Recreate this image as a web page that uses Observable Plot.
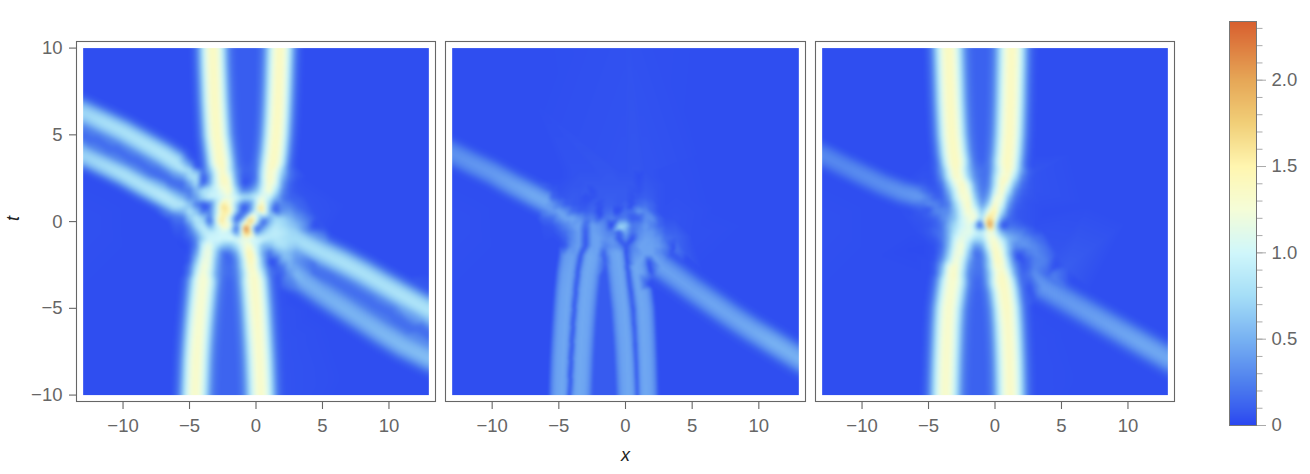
<!DOCTYPE html>
<html><head><meta charset="utf-8">
<script src="https://cdn.jsdelivr.net/npm/d3@7"></script>
<script src="https://cdn.jsdelivr.net/npm/@observablehq/plot@0.6"></script>
<style>
html,body{margin:0;padding:0;background:#fff}
#c{position:relative;width:1310px;height:474px;overflow:hidden;font-family:"Liberation Sans",sans-serif}
#c svg{position:absolute;top:0;background:transparent}
.lab{position:absolute;font:italic 18px "Liberation Sans",sans-serif;color:#222}
</style></head><body><div id="c"></div>
<script>
// colour scale
const colorStops=[0,0.1,0.25,0.5,0.75,1,1.25,1.5,1.75,2,2.34];
const colorHex=["#2a46f0","#3a60ef","#4f80ee","#78b2f2","#a5def7","#d0f7fb","#f5fdd8","#fff6b0","#f1cf78","#e6a757","#d85f2f"];
const xTicks=[-10,-5,0,5,10], tTicks=[-10,-5,0,5,10];
const barTicks=[0,0.5,1,1.5,2];
const barMinor=[0,.1,.2,.3,.4,.5,.6,.7,.8,.9,1,1.1,1.2,1.3,1.4,1.5,1.6,1.7,1.8,1.9,2,2.1,2.2,2.3];
// cross-section of a ridge: [fraction of half-width, fraction of peak]
const profile=[[0,1],[.25,.9],[.45,.72],[.62,.5],[.8,.24],[1,.07],[1.3,0]];
const flatProfile=[[0,1],[.45,.92],[.75,.6],[1,0]];
// background samples [x,t,v]
const background=[[-17,-13,.03],[-17,13,.03],[17,-13,.03],[17,13,.03],[-17,0,.03],[17,0,.03],[0,13,.04],[0,-13,.04],[-13,-5,.03],[-13,0,.04],[-8,-12,.03],[-8,-6,.03],[-8,12,.03],[-7,7,.03],[-9,-2,.03],[-7,-8,.03],
[13,-3,.03],[13,2,.03],[7,12,.03],[6,4,.03],[5,-12,.03],[7,-9,.03],[10,0,.03],[7,1,.03]];
// centre table: x columns shared by all panels, t rows per panel
const gridX=[-5.5,-5,-4.5,-4,-3.5,-3,-2.5,-2,-1.5,-1,-.5,0,.5,1,1.5,2,2.5,3];
const gridT=[3,2.6,2.2,1.8,1.4,1,.6,.2,-.2,-.6,-1,-1.4,-1.8,-2.2,-2.6,-3];
const gridT2=gridT.slice(0,12);
const grid1=[
[.85,.8,.45,.15,.6,1.15,1.42,.95,.35,.12,.12,.2,.9,1.38,1.25,.7,.2,.08],
[.45,.8,.85,.05,.4,1.05,1.45,1.15,.4,.08,.1,.2,.95,1.4,1.15,.55,.2,.08],
[.15,.45,.8,.05,.45,1,1.4,1.3,.5,.05,.08,.3,.95,1.35,1.1,.4,.12,.05],
[.2,.2,.55,.8,.85,.95,1.2,1.4,.75,.25,.3,.55,1.05,1.35,.85,.3,.1,.06],
[.5,.25,.4,.75,1,.95,1.05,1.15,1,.8,.8,.95,1.2,1,.55,.2,.12,.1],
[.85,.6,.2,.05,.15,.8,1.6,1.3,.7,.2,.25,.9,1.45,.7,.15,.3,.25,.15],
[.55,.85,.6,.15,.25,.85,1.55,1.5,.7,.1,.3,1,1.55,.6,.08,.35,.4,.25],
[.2,.65,.9,.7,.2,1,1.6,1,.12,.35,1.5,1.2,.45,.45,.75,.7,.55,.4],
[.1,.35,.8,.9,.35,.9,1.45,1.3,.35,1.2,1.5,.75,.2,.6,.85,.75,.65,.55],
[.06,.2,.5,.85,.9,.95,1.05,.95,.2,1.3,1.7,.2,.6,.85,.9,.85,.75,.7],
[.04,.1,.3,.7,1,1,1,1.05,1.05,1.15,1.05,1,.95,.85,.85,.8,.75,.75],
[.02,.05,.25,1,1.2,.85,.6,.55,.75,1.1,1.35,.95,.55,.55,.75,.8,.7,.65],
[.03,.05,.4,1.1,1.25,.65,.2,.2,.45,1,1.55,1.05,.45,.15,.45,.6,.55,.4],
[.03,.08,.6,1.2,1.2,.55,.2,.12,.3,.85,1.5,1.2,.55,.08,.08,.5,.55,.35],
[.03,.2,.8,1.3,1.15,.5,.2,.15,.28,.8,1.4,1.2,.65,.15,.08,.2,.5,.45],
[.03,.25,.95,1.32,1.05,.45,.2,.15,.25,.7,1.28,1.33,.85,.25,.1,.12,.35,.55]];
const grid2=[
[.03,.03,.04,.05,.05,.05,.05,.06,.06,.06,.05,.05,.06,.06,.05,.05,.04,.04],
[.03,.03,.04,.05,.06,.06,.06,.06,.07,.07,.06,.06,.06,.03,.06,.05,.04,.04],
[.04,.04,.05,.06,.06,.07,.07,.07,.07,.07,.07,.07,.07,.04,.07,.06,.05,.04],
[.08,.05,.06,.07,.07,.08,.04,.08,.08,.08,.08,.08,.06,.05,.08,.07,.05,.04],
[.13,.08,.07,.08,.07,.04,.05,.08,.09,.09,.08,.08,.05,.08,.1,.08,.05,.04],
[.36,.22,.1,.08,.07,.06,.1,.05,.1,.1,.08,.12,.04,.14,.18,.12,.05,.04],
[.38,.44,.34,.16,.1,.1,.14,.03,.14,.16,.03,.18,.18,.38,.3,.14,.05,.04],
[.18,.34,.44,.46,.36,.22,.26,.08,.22,.26,.18,.22,.08,.1,.32,.34,.12,.05],
[.08,.18,.28,.38,.44,.14,.42,.36,.26,.03,.6,.62,.22,.26,.38,.26,.14,.08],
[.05,.1,.18,.3,.42,.07,.42,.38,.3,.26,.1,.46,.18,.3,.38,.36,.24,.12],
[.03,.05,.12,.3,.42,.05,.42,.42,.34,.36,.06,.3,.03,.34,.42,.4,.34,.18],
[.03,.03,.08,.34,.42,.05,.42,.42,.26,.34,.3,.05,.26,.42,.42,.42,.38,.26]];
const grid3=[
[.04,.04,.1,.45,1.05,1.42,1.15,.6,.25,.17,.2,.7,1.2,1.42,1.05,.45,.12,.06],
[.05,.04,.08,.35,.95,1.4,1.25,.7,.3,.17,.22,.8,1.3,1.35,.85,.3,.1,.05],
[.08,.05,.06,.2,.7,1.2,1.42,1.05,.4,.18,.25,.85,1.42,1.15,.55,.18,.08,.05],
[.2,.1,.06,.12,.5,1,1.4,1.2,.5,.2,.32,1,1.42,.9,.32,.12,.07,.05],
[.38,.25,.1,.1,.35,.9,1.3,1.35,.65,.25,.45,1.25,1.3,.6,.2,.08,.06,.05],
[.22,.33,.3,.15,.22,.7,1.15,1.42,.85,.35,.7,1.42,1.1,.4,.12,.07,.05,.04],
[.08,.12,.3,.32,.3,.6,1.05,1.35,1.15,.6,1.15,1.55,.8,.25,.08,.06,.05,.04],
[.06,.08,.12,.3,.42,.6,1,1.2,1.3,.75,1.7,1.3,.45,.15,.08,.06,.05,.04],
[.05,.06,.1,.2,.5,.75,1,1.15,.8,.1,2,.9,.05,.15,.15,.1,.06,.04],
[.05,.08,.15,.2,.5,.85,1.1,1.15,1,.9,1.2,1.05,.5,.35,.3,.25,.15,.08],
[.03,.05,.08,.2,.5,1,1.2,1.05,.75,.75,1.2,1.3,.9,.55,.45,.35,.3,.2],
[.02,.03,.05,.15,.55,1.1,1.3,.85,.35,.45,1.05,1.4,1.1,.6,.3,.35,.35,.3],
[.02,.03,.04,.2,.65,1.2,1.25,.65,.15,.25,.8,1.45,1.25,.6,.12,.1,.25,.3],
[.03,.03,.06,.3,.8,1.3,1.1,.5,.2,.22,.65,1.4,1.35,.75,.2,.03,.12,.25],
[.03,.03,.1,.5,1.2,1.38,1,.38,.2,.2,.65,1.3,1.35,.9,.35,.08,.12,.28],
[.03,.03,.1,.6,1.25,1.38,.9,.3,.18,.18,.55,1.15,1.42,1.1,.45,.12,.18,.34]];
// extra peaks and pits inside the centre, and the fades just outside it [x,t,v]
const spots1=[[-.77,-.41,2.6],[-.85,-.3,2.15],[-.68,-.55,2.15],[-2.47,.84,1.75],[-2.6,.11,1.75],[.29,.75,1.8],[-.41,.07,1.95],[-3.85,.94,0],[-.97,.79,0],[1.41,.65,0],[-3.47,.07,.03],[-1.47,.11,.02],[.53,-.03,.03],[-1.47,-.37,.05],[0,-.37,.05],[-2.1,-1.96,.1],[1.04,-2.25,0],[-3.97,2.48,0],[-.97,2.19,.03],
 [-5.5,3.5,.55],[-5,3.3,.4],[-4.5,3.05,.12],[-4.6,3.6,.03],[-5,3.7,.08],
 [3.7,1.5,.05],[3.8,.6,.12],[3.9,0,.25],[4.6,.3,.05],[5.2,-.5,.08],[-6.2,-.2,.1],[-6.2,-1,.03],[-6.6,.3,.2],[3.8,2.6,.03]];
const spots2=[[-.42,-.32,.72],[-1.05,-.22,0],[-1.9,.36,.03],[.33,.84,.03],[-.8,.55,.03],[1.4,-1.9,.42],[2,-1.9,.42],[2.6,-1.7,.3],
 [3.7,.2,.05],[3.8,-.8,.12],[3.8,-1.6,.2],[4.5,-1.8,.08],[5,-.8,.04],[3.8,1.5,.04],[-6.2,-.3,.05],[-6.2,-1.2,.03],[-6.3,.2,.12]];
const spots3=[[-.37,-.2,2.25],[-1.24,-.2,0],[.64,-.26,0],[1.75,-2.05,0],[-5,.65,.01],
 [3.7,.5,.03],[3.7,-.6,.05],[3.7,-1.5,.2],[3.8,-2.3,.25],[4.3,-3,.26],[4.6,-1.8,.06],[5.4,-2.6,.09],[-6.2,.3,.05],[-6.2,-.6,.03],[-6.4,-1.6,.02]];
// ridges, listed with t falling or x rising: [x,t,peak]
const a1=[[-3.3,11.5,1.42],[-3.25,10,1.42],[-3.22,9,1.42],[-3.17,8,1.42],[-3.12,7,1.42],[-3.05,6,1.42],[-2.97,5,1.42],[-2.8,4,1.42],[-2.7,3.4,1.43]];
const a2=[[1.85,11.5,1.42],[1.79,10,1.42],[1.75,9,1.42],[1.71,8,1.42],[1.66,7,1.42],[1.6,6,1.42],[1.52,5,1.42],[1.4,4,1.42],[1.3,3.4,1.42]];
const a3=[[-3.98,-3.4,1.32],[-4.07,-4,1.32],[-4.2,-5,1.33],[-4.32,-6,1.34],[-4.42,-7,1.35],[-4.5,-8,1.36],[-4.55,-9,1.36],[-4.6,-10,1.36],[-4.66,-11.5,1.36]];
const a4=[[-.13,-3.4,1.38],[-.06,-4,1.38],[.04,-5,1.38],[.12,-6,1.37],[.2,-7,1.36],[.27,-8,1.36],[.32,-9,1.36],[.36,-10,1.36],[.42,-11.5,1.36]];
const a5=[[-15,7.05,.72],[-13,6.3,.72],[-11.5,5.75,.78],[-10,5.2,.8],[-8.5,4.55,.82],[-7,3.9,.85],[-6,3.4,.85]];
const a6=[[-15,4.55,.7],[-13,3.8,.7],[-11.5,3.25,.75],[-10,2.7,.8],[-8.5,2.05,.82],[-7,1.45,.88],[-6,1,.85]];
const a7=[[3.6,-1.22,.78],[5,-1.77,.78],[6.5,-2.32,.8],[8,-2.93,.8],[9.5,-3.6,.8],[11,-4.25,.82],[13,-5.1,.82],[15,-5.95,.82]];
const a8=[[3.6,-3.45,.5],[5,-4.2,.5],[6.5,-4.95,.52],[8,-5.7,.52],[9.5,-6.45,.54],[11,-7.15,.56],[13,-7.9,.58],[15,-8.65,.58]];
const b1=[[-15,4.7,.34],[-13,3.93,.34],[-11.5,3.35,.36],[-10,2.8,.38],[-8.5,2.15,.42],[-7,1.55,.46],[-6,1.15,.46]];
const b2=[[2.7,-2.6,.42],[3.6,-3.1,.42],[5,-3.9,.42],[6.5,-4.7,.44],[8,-5.5,.44],[9.5,-6.25,.46],[11,-6.95,.5],[13,-7.9,.5],[15,-8.8,.5]];
const b3=[[-4.05,-2,.42],[-4.25,-3,.44],[-4.38,-4,.45],[-4.48,-5,.45],[-4.57,-6,.45],[-4.65,-7,.45],[-4.72,-8,.45],[-4.77,-9,.45],[-4.8,-10,.45],[-4.85,-11.5,.45]];
const b4=[[-2.68,-2,.46],[-2.93,-3,.46],[-3.08,-4,.46],[-3.2,-5,.46],[-3.3,-6,.46],[-3.38,-7,.46],[-3.45,-8,.46],[-3.5,-9,.46],[-3.55,-10,.46],[-3.6,-11.5,.46]];
const b5=[[-.62,-1.8,.45],[-.5,-2.5,.45],[-.42,-3,.45],[-.28,-4,.45],[-.12,-5,.45],[-.02,-6,.45],[.08,-7,.45],[.15,-8,.45],[.21,-9,.45],[.26,-10,.45],[.32,-11.5,.45]];
const b6=[[.75,-2.5,.45],[.88,-3,.45],[1.08,-4,.45],[1.25,-5,.45],[1.32,-6,.45],[1.38,-7,.45],[1.43,-8,.45],[1.47,-9,.45],[1.5,-10,.45],[1.55,-11.5,.45]];
const c1=[[-3.55,11.5,1.42],[-3.5,10,1.42],[-3.46,9,1.42],[-3.42,8,1.42],[-3.38,7,1.42],[-3.32,6,1.42],[-3.25,5,1.42],[-3.12,4,1.42],[-3,3.4,1.42]];
const c2=[[1.29,11.5,1.42],[1.26,10,1.42],[1.24,9,1.42],[1.21,8,1.42],[1.18,7,1.42],[1.14,6,1.42],[1.09,5,1.42],[1,4,1.42],[.92,3.4,1.42]];
const c3=[[-3.2,-3.4,1.34],[-3.32,-4,1.34],[-3.5,-5,1.35],[-3.58,-6,1.35],[-3.63,-7,1.36],[-3.68,-8,1.36],[-3.72,-9,1.36],[-3.75,-10,1.36],[-3.8,-11.5,1.36]];
const c4=[[.55,-3.4,1.42],[.72,-4,1.4],[.89,-5,1.4],[.98,-6,1.38],[1.04,-7,1.38],[1.09,-8,1.38],[1.12,-9,1.38],[1.14,-10,1.38],[1.18,-11.5,1.38]];
const c5=[[-15,4.6,.3],[-13,3.83,.3],[-11.5,3.25,.3],[-10,2.7,.32],[-8.5,2.15,.33],[-7,1.7,.36],[-6,1.5,.38]];
const c6=[[3.6,-3.76,.38],[5,-4.38,.38],[6.5,-5.04,.4],[8,-5.7,.42],[9.5,-6.36,.44],[11,-7.02,.46],[13,-7.9,.46],[15,-8.75,.46]];

const PX=13.3, PT=17.28; // plot pixels per data unit
function ridgeSamples([track,wPlus,wMinus,floorPlus,floorMinus,prof=profile]){
  const out=[];
  track.forEach((k,i)=>{
    const a=track[Math.max(i-1,0)],b=track[Math.min(i+1,track.length-1)];
    let tx=(b[0]-a[0])*PX,ty=(b[1]-a[1])*PT;const L=Math.hypot(tx,ty);tx/=L;ty/=L;
    for(const [f,g] of prof)for(const s of f===0?[1]:[1,-1]){
      const w=s>0?wPlus:wMinus,floor=s>0?floorPlus:floorMinus,off=s*f*w*PX;
      out.push([k[0]-ty*off/PX,k[1]+tx*off/PT,floor+(k[2]-floor)*g]);
    }
  });
  return out;
}
function samples(ridges,ts,rows,spots){
  const tMin=Math.min(...ts),tMax=Math.max(...ts);
  const outside=d=>d[0]<-5.7||d[0]>3.2||d[1]<tMin-.2||d[1]>tMax+.2;
  return [...background,...spots,
    ...rows.flatMap((r,j)=>r.map((v,i)=>[gridX[i],ts[j],v])),
    ...ridges.flatMap(ridgeSamples).filter(outside)];
}
const panels=[
 {left:76,w:359,ml:70,axisY:true,blur:1.5,data:samples([
   [a1,1.35,1.35,.09,.03],[a2,1.35,1.35,.03,.09],[a3,1.4,1.4,.12,.03],[a4,1.4,1.4,.05,.12],
   [a5,1.15,1.15,.03,.15],[a6,1.05,1.05,.15,.03],[a7,1.25,1.25,.03,.16],[a8,1.2,1.2,.16,.03]],gridT,grid1,spots1)},
 {left:445,w:360,ml:8,blur:.8,data:samples([
   [b1,1.15,1.15,.03,.03],[b2,1.25,1.25,.03,.03],
   [b3,.64,1,.03,.03,flatProfile],[b4,1.1,.64,.08,.03,flatProfile],[b5,.62,1,.03,.08,flatProfile],[b6,1,.62,.03,.03,flatProfile]],gridT2,grid2,spots2)},
 {left:815,w:359,ml:8,blur:1.5,data:samples([
   [c1,1.45,1.45,.11,.03],[c2,1.45,1.45,.03,.11],[c3,1.45,1.45,.11,.03],[c4,1.45,1.45,.04,.11],
   [c5,1.05,1.05,.03,.03],[c6,1.25,1.25,.03,.03]],gridT,grid3,spots3)}
];
const color={type:"linear",domain:colorStops,range:colorHex,clamp:true};
const base={fontFamily:"Liberation Sans",fontSize:"18.5px",color:"#666",background:"transparent"};
const root=document.getElementById("c");
for(const p of panels){
  const marks=[
    Plot.raster(p.data,{x:d=>d[0],y:d=>d[1],fill:d=>d[2],x1:-13,x2:13,y1:-10,y2:10,pixelSize:1,interpolate:"barycentric",blur:p.blur}),
    Plot.frame({stroke:"#666",strokeWidth:1.1}),
    Plot.axisX(xTicks,{tickSize:8,tickPadding:9,label:null,strokeWidth:1.1})
  ];
  if(p.axisY)marks.push(Plot.axisY(tTicks,{tickSize:7,tickPadding:7,label:null,strokeWidth:1.1}));
  const svg=Plot.plot({width:p.ml+p.w+6,height:474,marginLeft:p.ml,marginRight:6,marginTop:41,marginBottom:73,
    x:{domain:[-13.5,13.5],axis:null},y:{domain:[-10.37,10.38],axis:null},color,style:base,marks});
  svg.style.left=(p.left-p.ml)+"px";
  root.appendChild(svg);
}
// colour bar
const bar=Plot.plot({width:110,height:474,marginLeft:19,marginRight:64,marginTop:21,marginBottom:49,
  x:{domain:[0,1],axis:null},y:{domain:[0,2.34],axis:null},color,style:base,
  marks:[
    Plot.raster({fill:(x,y)=>y,x1:0,x2:1,y1:0,y2:2.34,pixelSize:1}),
    Plot.frame({stroke:"#777",strokeWidth:1}),
    Plot.axisY(barMinor,{anchor:"right",tickSize:5.5,tickFormat:()=>"",label:null,stroke:"#aaa"}),
    Plot.axisY(barTicks,{anchor:"right",tickSize:9,tickPadding:6,label:null,stroke:"#aaa",tickFormat:d=>d===0?"0":d3.format(".1f")(d)})
  ]});
bar.style.left="1210px";
root.appendChild(bar);
for(const [s,x,y,r] of [["x",621,445,0],["t",11,208,-90]]){
  const e=document.createElement("div");e.className="lab";e.textContent=s;
  e.style.left=x+"px";e.style.top=y+"px";if(r)e.style.transform=`rotate(${r}deg)`;root.appendChild(e);
}
</script></body></html>
